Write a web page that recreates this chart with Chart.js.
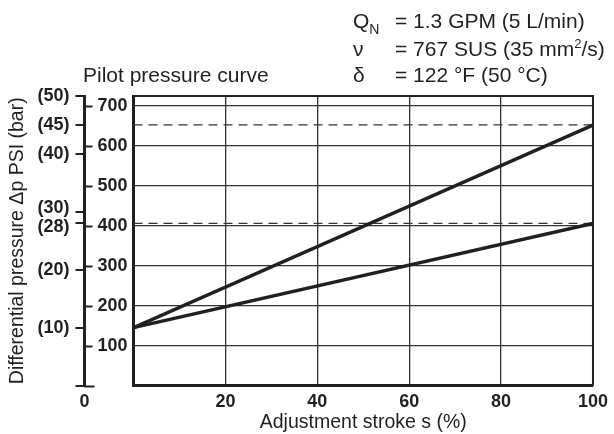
<!DOCTYPE html>
<html>
<head>
<meta charset="utf-8">
<script src="https://cdn.jsdelivr.net/npm/chart.js@4"></script>
<style>
  body { margin: 0; background: #fff; }
  #wrap { position: relative; width: 614px; height: 434px; font-family: "Liberation Sans", Arial, sans-serif; color: #231f20; }
  .txt { position: absolute; font-size: 21px; line-height: 21px; white-space: nowrap; }
  sub { font-size: 14px; position: relative; top: 6px; vertical-align: baseline; }
  sup { font-size: 13px; position: relative; top: -8px; vertical-align: baseline; }
</style>
</head>
<body>
<div id="wrap">
  <canvas id="pilotChart" width="614" height="434"></canvas>
  <div class="txt" style="left:83px; top:64px;">Pilot pressure curve</div>
  <div class="txt" style="left:353px; top:10px;">Q<sub>N</sub></div>
  <div class="txt" style="left:395px; top:10px;">= 1.3 GPM (5 L/min)</div>
  <div class="txt" style="left:353px; top:38px;">ν</div>
  <div class="txt" style="left:395px; top:38px;">= 767 SUS (35 mm<sup>2</sup>/s)</div>
  <div class="txt" style="left:353px; top:64px;">δ</div>
  <div class="txt" style="left:395px; top:64px;">= 122 °F (50 °C)</div>
</div>
<script>
// ----------- Data -----------
const PSI_PER_BAR = 14.5038;
const strokePct = [0, 100];
const curveUpperPsi = [145, 652];
const curveLowerPsi = [145, 406];
const limitBar = [45, 28];          // dashed reference levels
const strokeTicks = [0, 20, 40, 60, 80, 100];
const psiTicks = [0, 100, 200, 300, 400, 500, 600, 700];
const barTicks = [0, 10, 20, 28, 30, 40, 45, 50];
const maxBar = 50;

const ink = "#231f20";
const fam = "'Liberation Sans', Arial, sans-serif";
const tickFont = { family: fam, size: 18, weight: "bold" };
const titleFont = { family: fam, size: 19.5 };

// 28 and 30 sit too close together, they get drawn by hand a bit apart
const crowded = { 28: 4, 30: -4 };

function pts(xs, ys) {
    return xs.map((x, i) => ({ x: x, y: ys[i] }));
}

// ----------- Extra drawing: frame, psi ticks on bar axis, "0" -----------
const extras = {
    id: "extras",
    afterDraw(chart) {
        const ctx = chart.ctx;
        const a = chart.chartArea;
        const y = chart.scales.y;
        const bar = chart.scales.bar;
        ctx.save();
        ctx.strokeStyle = ink;
        ctx.lineWidth = 2;
        ctx.beginPath();
        ctx.moveTo(a.left, a.top);
        ctx.lineTo(a.right, a.top);
        ctx.lineTo(a.right, a.bottom);
        ctx.stroke();

        // psi tick marks on the right side of the bar axis line
        psiTicks.forEach(v => {
            const py = Math.round(y.getPixelForValue(v)) + 0.5;
            ctx.beginPath();
            ctx.moveTo(bar.right, py);
            ctx.lineTo(bar.right + (v === 0 ? 10 : 8), py);
            ctx.stroke();
        });

        ctx.fillStyle = ink;
        ctx.font = "bold 18px " + fam;
        ctx.textAlign = "center";
        ctx.textBaseline = "top";
        ctx.fillText("0", bar.right, a.bottom + 8);

        ctx.textAlign = "right";
        ctx.textBaseline = "middle";
        Object.keys(crowded).forEach(k => {
            const v = Number(k);
            ctx.fillText("(" + v + ")", bar.right - 9 - 6, bar.getPixelForValue(v) + crowded[k]);
        });
        ctx.restore();
    }
};

// ----------- Chart -----------
const datasets = [
    { data: pts(strokePct, curveUpperPsi), borderColor: ink, borderWidth: 3.5 },
    { data: pts(strokePct, curveLowerPsi), borderColor: ink, borderWidth: 3.5 }
];
limitBar.forEach(b => {
    datasets.push({
        data: pts(strokePct, strokePct.map(() => b * PSI_PER_BAR)),
        borderColor: "#333",
        borderWidth: 1.3,
        borderDash: [9, 6]
    });
});

new Chart(document.getElementById("pilotChart"), {
    type: "line",
    data: { datasets: datasets },
    options: {
        responsive: false,
        animation: false,
        events: [],
        elements: { point: { radius: 0 }, line: { tension: 0 } },
        layout: { padding: { top: 96, right: 17, left: 0, bottom: 0 } },
        plugins: { legend: { display: false }, tooltip: { enabled: false } },
        scales: {
            x: {
                type: "linear",
                min: 0,
                max: 100,
                afterBuildTicks: s => { s.ticks = strokeTicks.map(v => ({ value: v })); },
                afterFit: s => { s.height = 48.5; },
                ticks: { color: ink, font: tickFont, padding: 6, maxRotation: 0,
                         callback: v => v === 0 ? "" : v },
                grid: { color: "#333", lineWidth: 1.3, drawTicks: false },
                border: { color: ink, width: 3 },
                title: { display: true, text: "Adjustment stroke s (%)", color: ink, font: titleFont,
                         padding: { top: 0, bottom: 0 } }
            },
            y: {
                position: "left",
                weight: 0,
                min: 0,
                max: maxBar * PSI_PER_BAR,
                afterBuildTicks: s => { s.ticks = psiTicks.map(v => ({ value: v })); },
                afterFit: s => { s.width = 49; },
                ticks: { color: ink, font: tickFont, padding: 6, callback: v => v === 0 ? "" : v },
                grid: { color: "#333", lineWidth: 1.3, drawTicks: false },
                border: { color: ink, width: 3 }
            },
            bar: {
                position: "left",
                weight: 1,
                min: 0,
                max: maxBar,
                afterBuildTicks: s => { s.ticks = barTicks.map(v => ({ value: v })); },
                afterFit: s => { s.width = 84.5; },
                ticks: { color: ink, font: tickFont, padding: 6,
                         callback: v => (v === 0 || crowded[v] !== undefined) ? "" : "(" + v + ")" },
                grid: { drawOnChartArea: false, color: ink, lineWidth: 2, tickLength: 9 },
                border: { color: ink, width: 3 },
                title: { display: true, text: "Differential pressure Δp PSI (bar)", color: ink, font: titleFont,
                         padding: { top: 6, bottom: 0 } }
            }
        }
    },
    plugins: [extras]
});
</script>
</body>
</html>
